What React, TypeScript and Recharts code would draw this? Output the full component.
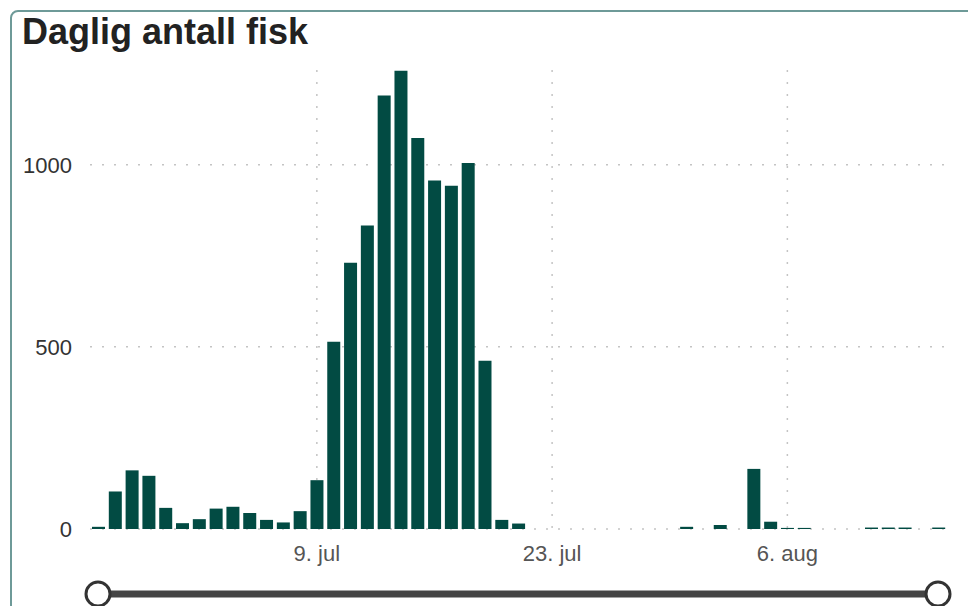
import React from 'react';
import { BarChart, Bar, XAxis, YAxis, CartesianGrid } from 'recharts';

// daily counts from 26. jun to 15. aug
const startDate = '2023-06-26';
const counts = [
  6, 103, 161, 146, 58,
  16, 27, 56, 61, 44, 25, 18, 49, 134, 514, 731, 833, 1190, 1258, 1073, 957,
  942, 1005, 462, 25, 15, 0, 0, 0, 0, 0, 0, 0, 0, 0, 6,
  0, 11, 0, 165, 20, 3, 3, 0, 0, 0, 4, 4, 4, 0, 4,
];
const tickLabels = ['9. jul', '23. jul', '6. aug'];
const yTicks = [0, 500, 1000];
const yMax = 1260;

const monthNames = ['jan', 'feb', 'mar', 'apr', 'mai', 'jun', 'jul', 'aug', 'sep', 'okt', 'nov', 'des'];

const dayLabel = (i: number) => {
  const d = new Date(startDate + 'T00:00:00Z');
  d.setUTCDate(d.getUTCDate() + i);
  return `${d.getUTCDate()}. ${monthNames[d.getUTCMonth()]}`;
};

const data = counts.map((value, i) => ({ day: i, label: dayLabel(i), value }));
const xTicks = tickLabels.map((t) => data.findIndex((d) => d.label === t));
const xDomain = [-0.5, counts.length - 0.5];

const FONT = 'Arial, "Liberation Sans", sans-serif';

// grid only at the tick values, behind the bars
const hGrid = ({ offset }: any) =>
  yTicks.map((t) => offset.top + offset.height * (1 - t / yMax));
const vGrid = ({ offset }: any) =>
  xTicks.map((t) => offset.left + (offset.width * (t - xDomain[0])) / (xDomain[1] - xDomain[0]));

const Slider: React.FC = () => (
  <svg width={968} height={30} style={{ position: 'absolute', left: 0, top: 576 }}>
    <line x1={98} y1={18} x2={938} y2={18} stroke="#444" strokeWidth={7} />
    <circle cx={98} cy={18} r={12} fill="#fff" stroke="#333" strokeWidth={3} />
    <circle cx={938} cy={18} r={12} fill="#fff" stroke="#333" strokeWidth={3} />
  </svg>
);

export default function App() {
  return (
    <div
      style={{
        position: 'absolute',
        left: 0,
        top: 0,
        width: 968,
        height: 606,
        overflow: 'hidden',
        background: '#fff',
        fontFamily: FONT,
      }}
    >
      <div
        style={{
          position: 'absolute',
          left: 10,
          top: 10,
          width: 980,
          height: 640,
          border: '2px solid #6e9a98',
          borderRadius: 8,
          boxSizing: 'border-box',
        }}
      />
      <div
        style={{
          position: 'absolute',
          left: 22,
          top: 11,
          fontSize: 36,
          fontWeight: 'bold',
          color: '#222',
        }}
      >
        Daglig antall fisk
      </div>
      <div style={{ position: 'absolute', left: 0, top: 0 }}>
        <BarChart
          width={968}
          height={570}
          data={data}
          margin={{ top: 70, right: 21, bottom: 0, left: 0 }}
          barSize={13}
        >
          <CartesianGrid
            stroke="#c4c4c4"
            strokeDasharray="2 10"
            strokeWidth={1.5}
            horizontalCoordinatesGenerator={hGrid}
            verticalCoordinatesGenerator={vGrid}
          />
          <XAxis
            dataKey="day"
            type="number"
            domain={xDomain}
            ticks={xTicks}
            tickFormatter={(v: number) => data[v]?.label ?? ''}
            axisLine={false}
            tickLine={false}
            tickSize={0}
            tickMargin={16}
            height={41}
            tick={{ fill: '#555', fontSize: 22, fontFamily: FONT }}
          />
          <YAxis
            domain={[0, yMax]}
            ticks={yTicks}
            axisLine={false}
            tickLine={false}
            tickSize={0}
            tickMargin={18}
            width={90}
            tick={{ fill: '#333', fontSize: 22, fontFamily: FONT }}
          />
          <Bar dataKey="value" fill="#024b43" isAnimationActive={false} />
        </BarChart>
      </div>
      <Slider />
    </div>
  );
}
